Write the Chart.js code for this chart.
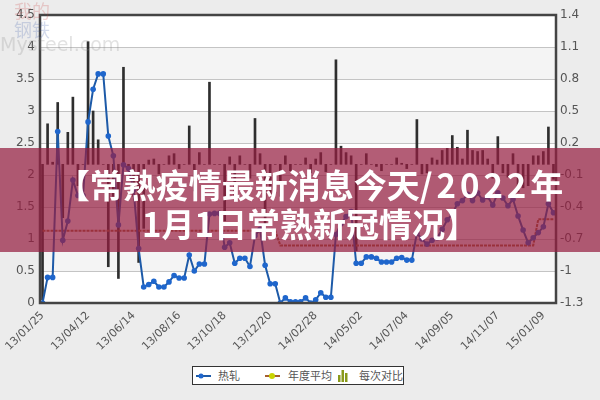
<!DOCTYPE html>
<html>
<head>
<meta charset="utf-8">
<script src="https://cdn.jsdelivr.net/npm/chart.js@4.4.1/dist/chart.umd.min.js"></script>
<style>
  html, body { margin: 0; padding: 0; background: #ececec; }
  #wrap { position: relative; width: 600px; height: 400px; overflow: hidden; background: #ececec; }
  #chart { position: absolute; left: 0; top: 0; }
  .mark { position: absolute; pointer-events: none; font-family: "DejaVu Sans", sans-serif; white-space: nowrap; }
  #banner { position: absolute; left: 0; top: 148px; width: 600px; height: 104px; background: rgba(150, 30, 65, 0.72); }
  .title-line { position: absolute; left: 0; width: 600px; text-align: center; color: #fff; font-family: "Noto Sans CJK SC", sans-serif; font-weight: 700; font-size: 33px; line-height: 40px; white-space: nowrap; }
  .title-line .num { letter-spacing: 4px; }
  #legend { position: absolute; left: 192px; top: 366px; width: 210px; height: 17px; background: #fff; border: 1px solid #333; font-family: "Noto Sans CJK SC", sans-serif; font-size: 11px; color: #555; }
  #legend span { position: absolute; top: 1px; line-height: 15px; }
</style>
</head>
<body>
<div id="wrap">
  <canvas id="chart" width="600" height="400"></canvas>
  <div class="mark" style="left:14px;top:-3px;font-size:18px;color:rgba(200,60,60,0.22);font-family:'Noto Sans CJK SC';">我的</div>
  <div class="mark" style="left:14px;top:16px;font-size:18px;color:rgba(60,90,170,0.22);font-family:'Noto Sans CJK SC';">钢铁</div>
  <div class="mark" style="left:0px;top:33px;font-size:19px;color:rgba(140,140,140,0.25);">Mysteel.com</div>
  <div id="banner">
    <div class="title-line" style="top:16px;left:10px;">【常熟疫情最新消息今天<span class="num">/2022</span>年</div>
    <div class="title-line" style="top:55px;left:10px;">1月1日常熟新冠情况】</div>
  </div>
  <div id="legend">
    <svg width="210" height="17" style="position:absolute;left:0;top:0">
      <line x1="3" y1="9" x2="18" y2="9" stroke="#1d5aa8" stroke-width="2"/>
      <circle cx="8" cy="9" r="2.5" fill="#1f66cc"/>
      <line x1="72" y1="9" x2="87" y2="9" stroke="#a65f2e" stroke-width="2"/>
      <circle cx="79" cy="9" r="3" fill="#c8d400"/>
      <rect x="145" y="8" width="2.5" height="7" fill="#8a9a1a"/>
      <rect x="148.5" y="3" width="2.5" height="12" fill="#8a9a1a"/>
      <rect x="152" y="6" width="2.5" height="9" fill="#8a9a1a"/>
    </svg>
    <span style="left:25px">热轧</span>
    <span style="left:95px">年度平均</span>
    <span style="left:166px">每次对比</span>
  </div>
</div>
<script>
// x-axis tick labels, one every 9 points
const tickLabels = ["13/01/25", "13/04/12", "13/06/14", "13/08/16", "13/10/18", "13/12/20",
  "14/02/28", "14/05/02", "14/07/04", "14/09/05", "14/11/07", "15/01/09"];
const tickEvery = 9;

// 热轧 (left axis)
const hotRolled = [
  0.00, 0.40, 0.40, 2.68, 0.98, 1.28, 1.92, 1.68, 1.68, 2.83,
  3.34, 3.58, 3.58, 2.61, 2.30, 1.22, 2.16, 2.10, 1.77, 0.85,
  0.25, 0.29, 0.34, 0.25, 0.25, 0.33, 0.43, 0.39, 0.39, 0.75,
  0.50, 0.61, 0.61, 1.39, 1.40, 1.40, 0.87, 0.94, 0.62, 0.70,
  0.70, 0.57, 1.05, 1.15, 0.59, 0.30, 0.30, 0.00, 0.08, 0.02,
  0.02, 0.02, 0.08, 0.00, 0.05, 0.16, 0.09, 0.09, 1.07, 1.24,
  1.35, 1.43, 0.62, 0.62, 0.72, 0.72, 0.70, 0.64, 0.64, 0.64,
  0.70, 0.71, 0.67, 0.67, 1.09, 1.00, 0.92, 0.98, 1.02, 1.15,
  1.30, 1.39, 1.55, 1.60, 1.70, 1.60, 1.72, 1.61, 1.66, 1.53,
  1.72, 1.64, 1.52, 1.62, 1.36, 1.14, 0.94, 1.02, 1.10, 1.19,
  1.55, 1.41
];

// 年度平均 (left axis)
const yearAvg = [
  1.13, 1.13, 1.13, 1.13, 1.13, 1.13, 1.13, 1.13, 1.13, 1.13,
  1.13, 1.13, 1.13, 1.13, 1.13, 1.13, 1.13, 1.13, 1.13, 1.13,
  1.13, 1.13, 1.13, 1.13, 1.13, 1.13, 1.13, 1.13, 1.13, 1.13,
  1.13, 1.13, 1.13, 1.13, 1.13, 1.13, 1.13, 1.13, 1.13, 1.13,
  1.13, 1.13, 1.13, 1.13, 1.13, 1.13, 1.13, 0.90, 0.90, 0.90,
  0.90, 0.90, 0.90, 0.90, 0.90, 0.90, 0.90, 0.90, 0.90, 0.90,
  0.90, 0.90, 0.90, 0.90, 0.90, 0.90, 0.90, 0.90, 0.90, 0.90,
  0.90, 0.90, 0.90, 0.90, 0.90, 0.90, 0.90, 0.90, 0.90, 0.90,
  0.90, 0.90, 0.90, 0.90, 0.90, 0.90, 0.90, 0.90, 0.90, 0.90,
  0.90, 0.90, 0.90, 0.90, 0.90, 0.90, 0.90, 0.90, 1.31, 1.31,
  1.31, 1.31
];

// 每次对比 (right axis)
const eachChange = [
  -1.27, 0.38, 0.02, 0.58, -0.50, 0.30, 0.63, -0.20, 0.00, 1.15,
  0.50, 0.23, 0.00, -0.96, -0.30, -1.07, 0.91, -0.05, -0.30, -0.92,
  -0.60, 0.04, 0.05, -0.09, 0.00, 0.08, 0.10, -0.04, 0.00, 0.36,
  -0.25, 0.11, 0.00, 0.77, 0.00, 0.00, -0.53, 0.07, -0.32, 0.08,
  0.00, -0.13, 0.43, 0.10, -0.56, -0.29, 0.00, -0.30, 0.08, -0.06,
  0.00, 0.00, 0.06, -0.08, 0.05, 0.11, -0.07, 0.00, 0.98, 0.17,
  0.11, 0.08, -0.81, 0.00, 0.10, 0.00, -0.02, -0.06, 0.00, 0.00,
  0.06, 0.01, -0.04, 0.00, 0.42, -0.09, -0.08, 0.06, 0.04, 0.13,
  0.15, 0.27, 0.16, 0.05, 0.32, 0.13, 0.12, 0.13, 0.05, -0.13,
  0.26, -0.08, -0.12, 0.10, -0.26, -0.22, -0.20, 0.08, 0.08, 0.12,
  0.35, -0.14
];

const leftTicks = [0, 0.5, 1, 1.5, 2, 2.5, 3, 3.5, 4, 4.5];
const rightTicks = [-1.3, -1, -0.7, -0.4, -0.1, 0.2, 0.5, 0.8, 1.1, 1.4];

const labels = hotRolled.map((_, i) => (i % tickEvery === 0 ? tickLabels[i / tickEvery] || "" : ""));

const plotFrame = {
  id: "plotFrame",
  beforeDraw(chart) {
    const { ctx, chartArea: a, scales } = chart;
    ctx.save();
    ctx.fillStyle = "#ffffff";
    ctx.fillRect(a.left, a.top, a.right - a.left, a.bottom - a.top);
    ctx.fillStyle = "#f4f4f4";
    for (let i = 1; i < leftTicks.length - 1; i += 2) {
      const y1 = scales.y.getPixelForValue(leftTicks[i]);
      const y2 = scales.y.getPixelForValue(leftTicks[i + 1]);
      ctx.fillRect(a.left, y2, a.right - a.left, y1 - y2);
    }
    ctx.restore();
  },
  afterDraw(chart) {
    const { ctx, chartArea: a } = chart;
    ctx.save();
    ctx.strokeStyle = "#444";
    ctx.lineWidth = 2.5;
    ctx.strokeRect(a.left, a.top, a.right - a.left, a.bottom - a.top);
    ctx.restore();
  },
};

const fmt = (v) => String(Math.round(v * 10) / 10);

new Chart(document.getElementById("chart"), {
  data: {
    labels,
    datasets: [
      {
        type: "line",
        label: "热轧",
        data: hotRolled,
        yAxisID: "y",
        borderColor: "#1d5aa8",
        borderWidth: 2,
        pointRadius: 2.8,
        pointBackgroundColor: "#1f66cc",
        pointBorderWidth: 0,
        tension: 0,
        order: 0,
      },
      {
        type: "line",
        label: "年度平均",
        data: yearAvg,
        yAxisID: "y",
        borderColor: "#a65f2e",
        borderWidth: 2,
        borderDash: [3, 1],
        pointRadius: 0,
        tension: 0,
        order: 1,
      },
      {
        type: "bar",
        label: "每次对比",
        data: eachChange,
        yAxisID: "y1",
        backgroundColor: "#2e2e2e",
        barThickness: 2,
        order: 2,
      },
    ],
  },
  options: {
    responsive: false,
    animation: false,
    layout: { padding: { top: 15, left: 0, right: 0, bottom: 0 } },
    plugins: { legend: { display: false }, tooltip: { enabled: false } },
    scales: {
      x: {
        type: "category",
        offset: true,
        grid: { display: false, drawTicks: false },
        border: { display: false },
        ticks: {
          autoSkip: false,
          maxRotation: 45,
          minRotation: 45,
          padding: 6,
          color: "#555",
          font: { family: "DejaVu Sans", size: 11 },
        },
        afterFit(s) { s.height = 97; },
      },
      y: {
        position: "left",
        min: 0,
        max: 4.5,
        afterBuildTicks(s) { s.ticks = leftTicks.map((v) => ({ value: v })); },
        grid: { color: "#c4c4c4", drawTicks: false },
        border: { display: false },
        ticks: { callback: fmt, padding: 5, color: "#555", font: { family: "DejaVu Sans", size: 12 } },
        afterFit(s) { s.width = 40; },
      },
      y1: {
        position: "right",
        min: -1.3,
        max: 1.4,
        afterBuildTicks(s) { s.ticks = rightTicks.map((v) => ({ value: v })); },
        grid: { display: false, drawTicks: false },
        border: { display: false },
        ticks: { callback: fmt, padding: 4, color: "#555", font: { family: "DejaVu Sans", size: 12 } },
        afterFit(s) { s.width = 44; },
      },
    },
  },
  plugins: [plotFrame],
});
</script>
</body>
</html>
